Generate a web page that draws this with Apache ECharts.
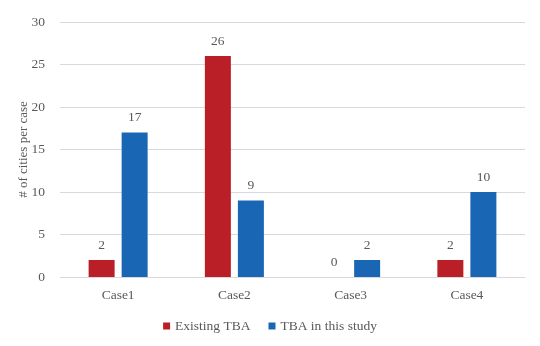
<!DOCTYPE html>
<html><head><meta charset="utf-8">
<script src="https://cdn.jsdelivr.net/npm/echarts@6/dist/echarts.min.js"></script>
<style>html,body{margin:0;padding:0;background:#fff}#c{width:540px;height:346px}</style>
</head><body><div id="c"></div>
<script>
var categories = ['Case1','Case2','Case3','Case4'];
var existingTBA = [2, 26, 0, 2];
var tbaThisStudy = [17, 9, 2, 10];
var yTicks = [0, 5, 10, 15, 20, 25, 30];

var font = 'Liberation Serif';
var txt = '#595959';
var fs = 13.5;
var chart = echarts.init(document.getElementById('c'));
chart.setOption({
  animation: false,
  textStyle: {fontFamily: font},
  grid: {left: 60, right: 15, top: 22, bottom: 69},
  legend: {
    bottom: 8, left: 'center', itemWidth: 7, itemHeight: 7, itemGap: 18,
    icon: 'rect',
    textStyle: {fontFamily: font, fontSize: fs, color: txt},
    data: ['Existing TBA', 'TBA in this study']
  },
  xAxis: {
    type: 'category', data: categories,
    axisLine: {lineStyle: {color: '#d9d9d9'}},
    axisTick: {show: false},
    axisLabel: {fontFamily: font, fontSize: fs, color: txt, margin: 11}
  },
  yAxis: {
    type: 'value', min: yTicks[0], max: yTicks[yTicks.length-1], interval: 5,
    name: '# of cities per case', nameLocation: 'middle', nameGap: 30,
    nameMoveOverlap: false,
    nameTextStyle: {fontFamily: font, fontSize: 13, color: txt},
    axisLine: {show: false}, axisTick: {show: false},
    axisLabel: {fontFamily: font, fontSize: fs, color: txt, margin: 15},
    splitLine: {lineStyle: {color: '#d9d9d9'}}
  },
  series: [
    {name: 'Existing TBA', type: 'bar', data: existingTBA, barWidth: 26, barGap: '27%',
     itemStyle: {color: '#BA1E27'},
     label: {show: true, position: 'top', distance: 8, fontFamily: font, fontSize: fs, color: txt}},
    {name: 'TBA in this study', type: 'bar', data: tbaThisStudy, barWidth: 26,
     itemStyle: {color: '#1967B4'},
     label: {show: true, position: 'top', distance: 8, fontFamily: font, fontSize: fs, color: txt}}
  ]
});
</script></body></html>
